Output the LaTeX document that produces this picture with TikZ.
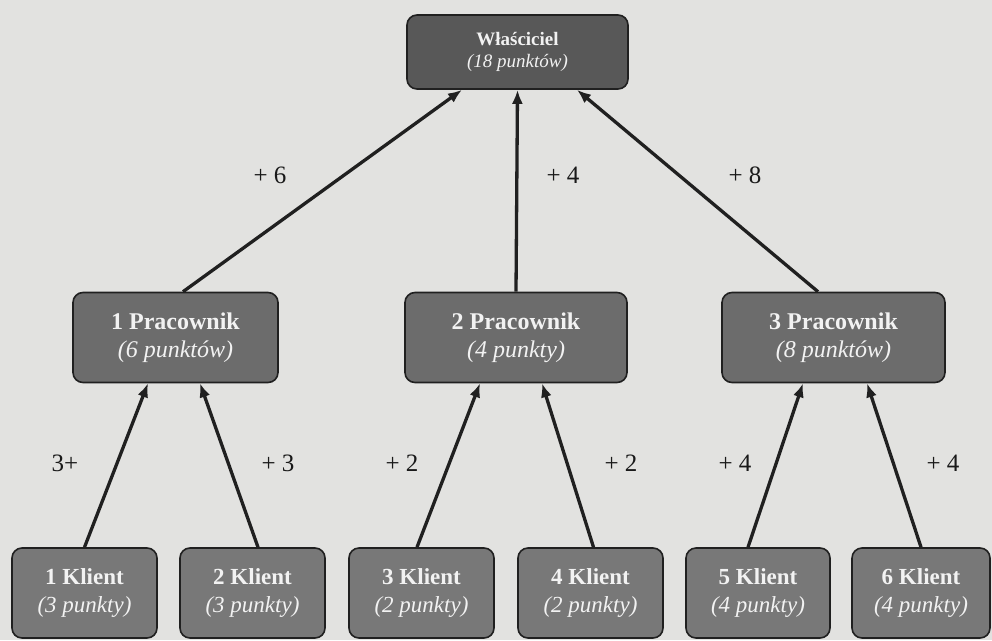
\documentclass[tikz,border=0pt]{standalone}
\usepackage{fontspec}
\setmainfont{Liberation Serif}
\usetikzlibrary{arrows.meta}
\definecolor{bg}{RGB}{226,226,224}
\definecolor{topfill}{RGB}{88,88,88}
\definecolor{midfill}{RGB}{108,108,108}
\definecolor{lowfill}{RGB}{120,120,120}
\definecolor{edge}{RGB}{32,32,32}
\definecolor{txt}{RGB}{242,242,242}
\tikzset{
  boxbase/.style={draw=edge, line width=1.6pt, rounded corners=10pt, inner sep=0pt, align=center, text=txt},
  topbox/.style={boxbase, fill=topfill, minimum width=221pt, minimum height=74pt, font=\fontsize{19}{22}\selectfont},
  midbox/.style={boxbase, fill=midfill, minimum height=90pt, font=\fontsize{24}{28}\selectfont},
  lowbox/.style={boxbase, fill=lowfill, minimum height=90pt, font=\fontsize{23}{28}\selectfont},
  conn/.style={draw=edge, line width=3.3pt, -{Latex[length=14pt,width=11pt]}},
  lbl/.style={font=\fontsize{25}{28}\selectfont, text=black!90}
}
\begin{document}
\begin{tikzpicture}[x=1pt,y=-1pt]
\fill[bg] (0,0) rectangle (992,640);
\useasboundingbox (0,0) rectangle (992,640);

\node[topbox] (top) at (517.5,52) {\textbf{Właściciel}\\\textit{(18 punktów)}};

\node[midbox, minimum width=205pt] (p1) at (175.5,337.5) {\textbf{1 Pracownik}\\\textit{(6 punktów)}};
\node[midbox, minimum width=222pt] (p2) at (516,337.5) {\textbf{2 Pracownik}\\\textit{(4 punkty)}};
\node[midbox, minimum width=223pt] (p3) at (833.5,337.5) {\textbf{3 Pracownik}\\\textit{(8 punktów)}};

\node[lowbox, minimum width=145pt] (k1) at (84.5,593) {\textbf{1 Klient}\\\textit{(3 punkty)}};
\node[lowbox, minimum width=145pt] (k2) at (252.5,593) {\textbf{2 Klient}\\\textit{(3 punkty)}};
\node[lowbox, minimum width=145pt] (k3) at (421.5,593) {\textbf{3 Klient}\\\textit{(2 punkty)}};
\node[lowbox, minimum width=145pt] (k4) at (590.5,593) {\textbf{4 Klient}\\\textit{(2 punkty)}};
\node[lowbox, minimum width=144pt] (k5) at (758,593) {\textbf{5 Klient}\\\textit{(4 punkty)}};
\node[lowbox, minimum width=138pt] (k6) at (921,593) {\textbf{6 Klient}\\\textit{(4 punkty)}};

\draw[conn] ([xshift=7.5pt]p1.north) -- ([xshift=-55.5pt]top.south);
\draw[conn] (p2.north) -- (top.south);
\draw[conn] ([xshift=-15.5pt]p3.north) -- ([xshift=59.5pt]top.south);

\draw[conn] (k1.north) -- ([xshift=-27.5pt]p1.south);
\draw[conn] ([xshift=5.5pt]k2.north) -- ([xshift=24.5pt]p1.south);
\draw[conn] ([xshift=-4.5pt]k3.north) -- ([xshift=-36pt]p2.south);
\draw[conn] ([xshift=3pt]k4.north) -- ([xshift=26pt]p2.south);
\draw[conn] ([xshift=-10pt]k5.north) -- ([xshift=-30.5pt]p3.south);
\draw[conn] (k6.north) -- ([xshift=33.5pt]p3.south);

\node[lbl] (l1) at (270,175) {+ 6};
\node[lbl] (l2) at (563,175) {+ 4};
\node[lbl] (l3) at (745,175) {+ 8};
\node[lbl] (l4) at (65,463) {3+};
\node[lbl] (l5) at (278,463) {+ 3};
\node[lbl] (l6) at (402,463) {+ 2};
\node[lbl] (l7) at (621,463) {+ 2};
\node[lbl] (l8) at (735,463) {+ 4};
\node[lbl] (l9) at (943,463) {+ 4};
\end{tikzpicture}
\end{document}
